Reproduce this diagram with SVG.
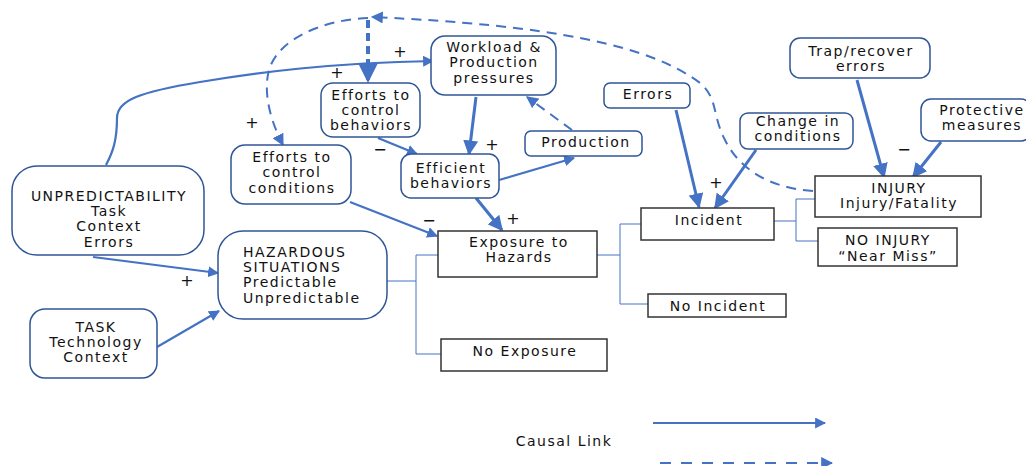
<svg xmlns="http://www.w3.org/2000/svg" width="1026" height="466" viewBox="0 0 1026 466">
<style>
text{font-family:"DejaVu Sans","Liberation Sans",sans-serif;font-size:14px;letter-spacing:1.5px;fill:#111;text-anchor:middle}
.rb{fill:#fff;stroke:#2F5597;stroke-width:1.5}
.sb{fill:#fff;stroke:#333;stroke-width:1.5}
.a{fill:none;stroke:#4472C4;stroke-width:2.2;marker-end:url(#ah)}
.a3{fill:none;stroke:#4472C4;stroke-width:3;marker-end:url(#ah)}
.d{fill:none;stroke:#4472C4;stroke-width:2;stroke-dasharray:10 7}
.tree{fill:none;stroke:#4472C4;stroke-width:1}
.sg{font-size:16px;letter-spacing:0}
.l{text-anchor:start}
</style>
<defs>
<marker id="ah" viewBox="0 0 10 10" refX="9" refY="5" markerWidth="5" markerHeight="5" orient="auto" markerUnits="strokeWidth">
<path d="M0,0 L10,5 L0,10 z" fill="#4472C4"/>
</marker>
<marker id="ahd" viewBox="0 0 10 10" refX="9" refY="5" markerWidth="6" markerHeight="6" orient="auto" markerUnits="strokeWidth">
<path d="M0,0 L10,5 L0,10 z" fill="#4472C4"/>
</marker>
</defs>

<g id="connectors">
<!-- decision tree lines -->
<path class="tree" d="M387,281 H416 M416,255 V354 M416,255 H438 M416,354 H441"/>
<path class="tree" d="M597,255 H620 M620,224 V304 M620,224 H641 M620,304 H648"/>
<path class="tree" d="M774,221 H796 M796,199 V241 M796,199 H815 M796,241 H818"/>
<!-- solid causal arrows -->
<path class="a" d="M106,165 C113,152 117,140 117,118 C117,100 140,92 200,82 C260,72 330,63 433,61"/>
<path class="a" d="M93,257 L218,273"/>
<path class="a" d="M157,347 L219,311"/>
<path class="a" d="M350,202 L437,236"/>
<path class="a" d="M378,138 L417,154"/>
<path class="a3" d="M476,97 L469,154"/>
<path class="a" d="M499,180 L574,158"/>
<path class="a3" d="M476,198 L502,230"/>
<path class="a3" d="M676,110 L699,207"/>
<path class="a3" d="M756,150 L715,208"/>
<path class="a3" d="M857,80 L884,177"/>
<path class="a3" d="M941,142 L913,177"/>
<!-- dashed arrows -->
<path class="d" marker-end="url(#ahd)" d="M813,191 C770,188 740,170 725,140 C712,115 718,98 700,83 C650,45 550,25 372,17"/>
<path class="d" marker-end="url(#ahd)" d="M368,18 C320,20 280,40 270,67 C262,90 270,120 283,145"/>
<path class="d" style="stroke-width:4;stroke-dasharray:8 5" marker-end="url(#ah)" d="M368,20 V81"/>
<path class="d" marker-end="url(#ahd)" d="M572,130 L527,97"/>
<!-- legend -->
<path class="a" d="M653,423 L825,423"/>
<path class="d" style="stroke-dasharray:11 10" marker-end="url(#ahd)" d="M660,463 L832,463"/>
</g>

<g id="signs">
<text class="sg" x="400" y="57">+</text>
<text class="sg" x="337" y="78">+</text>
<text class="sg" x="252" y="128">+</text>
<text class="sg" x="380" y="155">−</text>
<text class="sg" x="492" y="150">+</text>
<text class="sg" x="429" y="226">−</text>
<text class="sg" x="513" y="224">+</text>
<text class="sg" x="716" y="188">+</text>
<text class="sg" x="904" y="155">−</text>
<text class="sg" x="187" y="286">+</text>
</g>

<g id="unpredictability">
<rect class="rb" x="12" y="166" width="192" height="89" rx="25"/>
<text x="109" y="201">UNPREDICTABILITY</text>
<text x="109" y="216">Task</text>
<text x="109" y="231">Context</text>
<text x="109" y="247">Errors</text>
</g>
<g id="hazardous">
<rect class="rb" x="218" y="231" width="169" height="88" rx="25"/>
<text class="l" x="243" y="257">HAZARDOUS</text>
<text class="l" x="243" y="272">SITUATIONS</text>
<text class="l" x="243" y="287">Predictable</text>
<text class="l" x="243" y="303">Unpredictable</text>
</g>
<g id="task">
<rect class="rb" x="30" y="309" width="127" height="69" rx="15"/>
<text x="96" y="332">TASK</text>
<text x="96" y="347">Technology</text>
<text x="96" y="362">Context</text>
</g>
<g id="effortsConditions">
<rect class="rb" x="231" y="145" width="120" height="59" rx="14"/>
<text x="292" y="162">Efforts to</text>
<text x="292" y="177">control</text>
<text x="292" y="193">conditions</text>
</g>
<g id="effortsBehaviors">
<rect class="rb" x="321" y="83" width="99" height="54" rx="12"/>
<text x="371" y="100">Efforts to</text>
<text x="371" y="115">control</text>
<text x="371" y="130">behaviors</text>
</g>
<g id="workload">
<rect class="rb" x="431" y="36" width="125" height="59" rx="14"/>
<text x="494" y="52">Workload &amp;</text>
<text x="494" y="67">Production</text>
<text x="494" y="83">pressures</text>
</g>
<g id="efficient">
<rect class="rb" x="401" y="154" width="98" height="44" rx="10"/>
<text x="451" y="173">Efficient</text>
<text x="451" y="188">behaviors</text>
</g>
<g id="production">
<rect class="rb" x="525" y="131" width="117" height="25" rx="6"/>
<text x="586" y="147">Production</text>
</g>
<g id="errors">
<rect class="rb" x="604" y="83" width="86" height="25" rx="6"/>
<text x="648" y="99">Errors</text>
</g>
<g id="change">
<rect class="rb" x="740" y="113" width="113" height="36" rx="8"/>
<text x="798" y="126">Change in</text>
<text x="798" y="141">conditions</text>
</g>
<g id="trap">
<rect class="rb" x="790" y="38" width="140" height="40" rx="10"/>
<text x="861" y="56">Trap/recover</text>
<text x="861" y="71">errors</text>
</g>
<g id="protective">
<rect class="rb" x="921" y="99" width="110" height="42" rx="10"/>
<text x="982" y="115">Protective</text>
<text x="982" y="130">measures</text>
</g>
<g id="injury">
<rect class="sb" x="815" y="176" width="166" height="41"/>
<text x="899" y="193">INJURY</text>
<text x="899" y="208">Injury/Fatality</text>
</g>
<g id="noInjury">
<rect class="sb" x="818" y="228" width="139" height="38"/>
<text x="888" y="245">NO INJURY</text>
<text x="888" y="261">“Near Miss”</text>
</g>
<g id="incident">
<rect class="sb" x="641" y="208" width="133" height="32"/>
<text x="709" y="225">Incident</text>
</g>
<g id="noIncident">
<rect class="sb" x="648" y="294" width="138" height="23"/>
<text x="718" y="311">No Incident</text>
</g>
<g id="exposure">
<rect class="sb" x="438" y="231" width="159" height="46"/>
<text x="519" y="247">Exposure to</text>
<text x="519" y="262">Hazards</text>
</g>
<g id="noExposure">
<rect class="sb" x="441" y="339" width="166" height="32"/>
<text x="525" y="356">No Exposure</text>
</g>
<g id="legend">
<text x="564" y="446">Causal Link</text>
</g>
</svg>
